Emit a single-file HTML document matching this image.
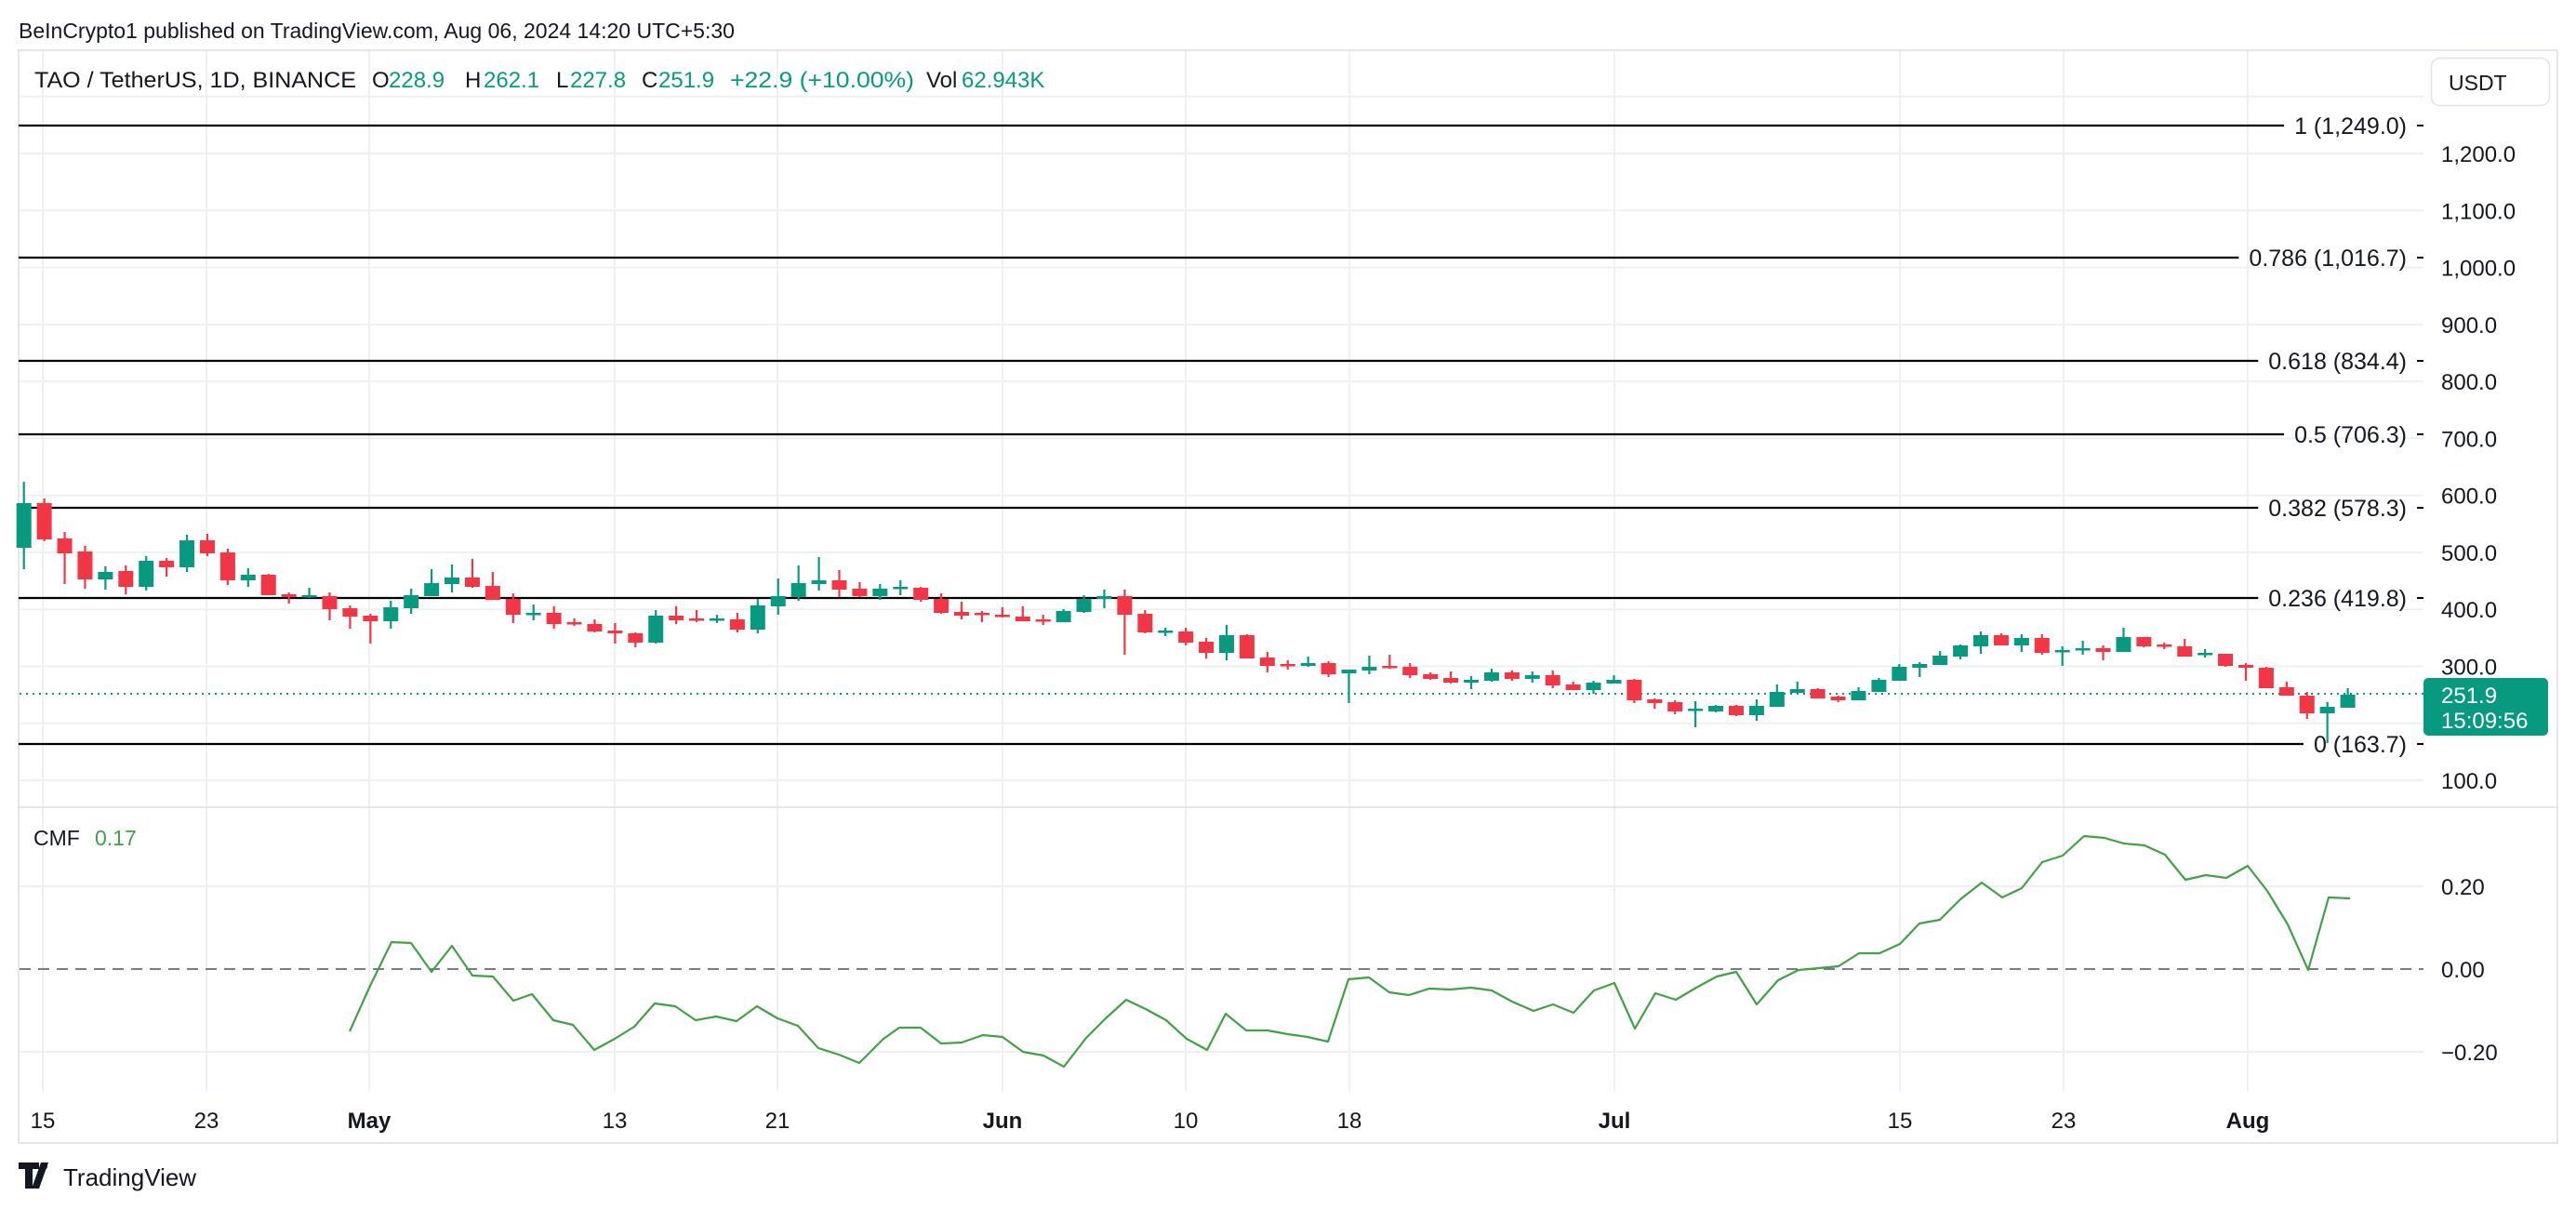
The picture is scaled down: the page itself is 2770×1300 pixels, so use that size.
<!DOCTYPE html>
<html><head><meta charset="utf-8"><style>
html,body{margin:0;padding:0;background:#fff;}
svg{display:block;font-family:"Liberation Sans",Arial,sans-serif;}
</style></head><body>
<svg id="s" width="2770" height="1300" viewBox="0 0 2770 1300" xmlns="http://www.w3.org/2000/svg">
<rect width="2770" height="1300" fill="#fff"/>
<g id="grid"></g>
<g id="fib"></g>
<g id="candles"></g>
<g id="cmf"></g>
<text x="20" y="41" font-size="23" fill="#131722">BeInCrypto1 published on TradingView.com, Aug 06, 2024 14:20 UTC+5:30</text>
<g font-size="24" fill="#131722">
<text x="37" y="94" textLength="346" lengthAdjust="spacingAndGlyphs">TAO / TetherUS, 1D, BINANCE</text>
<text x="400" y="94">O</text><text x="418" y="94" fill="#089981">228.9</text>
<text x="500" y="94">H</text><text x="520" y="94" fill="#089981">262.1</text>
<text x="598" y="94">L</text><text x="613" y="94" fill="#089981">227.8</text>
<text x="690" y="94">C</text><text x="708" y="94" fill="#089981">251.9</text>
<text x="785" y="94" fill="#089981" textLength="198" lengthAdjust="spacingAndGlyphs">+22.9 (+10.00%)</text>
<text x="996" y="94">Vol</text><text x="1034" y="94" fill="#089981">62.943K</text>
</g>
<rect x="2614.5" y="62.5" width="127" height="51" rx="9" fill="#fff" stroke="#e0e3eb" stroke-width="1.5"/>
<text x="2633" y="97" font-size="23" fill="#131722">USDT</text>
<g id="axis" font-size="24" fill="#131722"></g>
<text x="36" y="909" font-size="23" fill="#131722">CMF</text>
<text x="102" y="909" font-size="23" fill="#43a047">0.17</text>
<g font-size="24" fill="#131722">
<text x="2625" y="962">0.20</text><text x="2625" y="1051">0.00</text><text x="2625" y="1140">−0.20</text>
</g>
<rect x="2606" y="729" width="134" height="62" rx="5" fill="#089981"/>
<text x="2625" y="756" font-size="24" fill="#fff">251.9</text>
<text x="2625" y="783" font-size="24" fill="#fff">15:09:56</text>
<g id="time" font-size="24" fill="#131722" text-anchor="middle"></g>
<g transform="translate(20,1250)">
<path d="M0 0h22v7h-7v21h-8V7H0z M24 0l8 0 -10 28h-8z" fill="#131722"/>
<circle cx="27" cy="4" r="4" fill="#131722"/>
</g>
<text x="68" y="1275" font-size="26" fill="#131722">TradingView</text>
</svg>
<script>
var NS="http://www.w3.org/2000/svg";
function el(p,t,a,txt){var e=document.createElementNS(NS,t);for(var k in a)e.setAttribute(k,a[k]);if(txt!=null)e.textContent=txt;document.getElementById(p).appendChild(e);return e;}
function Y(p){return 839-(p-100)*0.6127;}
el('grid','rect',{x:20,y:54,width:2730,height:1175,fill:'none',stroke:'#e6e6e6','stroke-width':2});
var vx=[46,222,397,661,836,1078,1275,1451,1736,2043,2219,2417];
vx.forEach(function(x){el('grid','line',{x1:x,y1:55,x2:x,y2:1173,stroke:'#f0f0f0','stroke-width':2});});
for(var p=100;p<=1300;p+=100){var y=Y(p);el('grid','line',{x1:21,y1:y,x2:2606,y2:y,stroke:'#f0f0f0','stroke-width':2});
 if(p<=1200){var s=p>=1000?(Math.floor(p/1000)+','+String(p%1000).padStart(3,'0')+'.0'):p+'.0';el('axis','text',{x:2625,y:y+9},s);}}
el('grid','line',{x1:21,y1:868,x2:2750,y2:868,stroke:'#e6e6e6','stroke-width':2});
[953,1131].forEach(function(y){el('grid','line',{x1:21,y1:y,x2:2606,y2:y,stroke:'#f0f0f0','stroke-width':2});});
el('grid','line',{x1:21,y1:1042,x2:2606,y2:1042,stroke:'#787b86','stroke-width':2,'stroke-dasharray':'12 8'});
el('grid','line',{x1:21,y1:746,x2:2606,y2:746,stroke:'#089981','stroke-width':2,'stroke-dasharray':'2 5'});
var fib=[[135,'1 (1,249.0)'],[277,'0.786 (1,016.7)'],[388,'0.618 (834.4)'],[467,'0.5 (706.3)'],[546,'0.382 (578.3)'],[643,'0.236 (419.8)'],[800,'0 (163.7)']];
fib.forEach(function(f){var t=el('fib','text',{x:2588,y:f[0]+9,'font-size':25,fill:'#131722','text-anchor':'end'},f[1]);
 var w=150;try{w=t.getComputedTextLength();}catch(e){}
 el('fib','line',{x1:20,y1:f[0],x2:2588-w-11,y2:f[0],stroke:'#000','stroke-width':2.2});
 el('fib','line',{x1:2599,y1:f[0],x2:2606,y2:f[0],stroke:'#000','stroke-width':2});});
var C=[[541,589,518,612,1],[541,580,536,582,0],[579,595,572,628,0],[593,623,587,633,0],[615,623,609,634,1],[614,631,608,639,0],[603,631,598,635,1],[603,610,600,620,0],[581,610,575,615,1],[581,595,574,598,0],
[594,624,590,629,0],[618,624,611,631,1],[618,640,617,640,0],[639,642,637,649,0],[640,642,632,643,1],[641,655,637,667,0],[654,663,651,676,0],[662,668,660,692,0],[653,668,646,676,1],[640,654,633,660,1],
[627,641,612,641,1],[621,628,607,637,1],[621,631,601,632,0],[630,645,615,645,0],[644,661,638,670,0],[659,661,650,667,1],[659,671,652,676,0],[669,671,665,673,0],[671,679,666,680,0],[678,681,670,692,0],
[681,691,680,696,0],[662,691,656,692,1],[662,667,652,671,0],[665,667,656,669,0],[665,667,661,670,1],[666,677,659,680,0],[651,677,644,681,1],[641,652,622,661,1],[627,642,608,646,1],[624,628,599,635,1],
[624,634,613,642,0],[633,641,626,642,0],[633,641,628,645,1],[631,632,624,640,1],[632,645,631,647,0],[644,659,638,660,0],[658,662,647,666,0],[659,661,657,669,0],[661,663,653,664,0],[663,668,652,668,0],
[666,668,661,672,0],[657,669,655,669,1],[644,658,640,659,1],[641,644,634,654,1],[641,661,634,704,0],[660,680,656,681,0],[678,680,675,684,1],[679,691,675,694,0],[690,702,686,708,0],[683,702,672,710,1],
[683,708,682,708,0],[707,716,701,723,0],[714,716,710,720,0],[713,716,706,717,1],[713,725,711,728,0],[720,724,720,756,1],[717,721,705,725,1],[716,718,704,719,0],[717,726,713,729,0],[725,730,723,731,0],
[729,734,722,735,0],[731,734,727,741,1],[723,732,719,733,1],[723,730,721,732,0],[726,730,722,734,1],[726,737,721,740,0],[736,742,733,742,0],[734,742,732,746,1],[731,735,726,735,1],[731,753,730,756,0],
[752,756,751,762,0],[755,765,753,768,0],[762,764,754,782,1],[759,765,758,766,1],[759,769,758,770,0],[759,769,752,775,1],[744,760,736,760,1],[741,745,733,746,1],[741,751,740,751,0],[749,753,748,755,0],
[743,753,739,753,1],[731,744,729,744,1],[717,732,714,732,1],[714,718,712,728,1],[705,715,700,715,1],[694,706,693,709,1],[683,695,679,703,1],[683,694,681,694,0],[686,694,682,701,1],[686,702,682,704,0],
[699,701,695,716,1],[697,699,689,704,1],[697,701,694,710,0],[685,701,675,701,1],[685,695,685,696,0],[693,694,691,698,0],[695,706,687,706,0],[702,703,698,707,1],[703,716,703,717,0],[715,718,713,732,0],
[718,740,717,740,0],[739,748,733,748,0],[748,767,744,773,0],[760,767,755,799,1],[747,761,740,761,1]];
C.forEach(function(c,i){var x=25.7+i*21.92,col=c[4]?'#089981':'#f23645';
 el('candles','rect',{x:x-1.1,y:c[2],width:2.2,height:Math.max(1,c[3]-c[2]),fill:col});
 var h=Math.max(2.5,c[1]-c[0]);el('candles','rect',{x:x-8,y:c[0],width:16,height:h,fill:col});});
var P=[[376,1109],[398,1060],[421,1013],[442,1014],[464,1045],[486,1017],[508,1049],[530,1050],[552,1076],[572,1069],[595,1097],[616,1102],[639,1129],[661,1117],[682,1104],[704,1079],[726,1082],[748,1097],[770,1093],[792,1098],[814,1082],[836,1095],[858,1103],[880,1127],[902,1134],[924,1143],[950,1117],[967,1105],[990,1105],[1012,1122],[1034,1121],[1057,1113],[1078,1115],[1100,1131],[1122,1135],[1144,1147],[1168,1116],[1189,1095],[1211,1075],[1232,1085],[1254,1097],[1276,1117],[1298,1129],[1318,1090],[1340,1108],[1363,1108],[1385,1112],[1406,1115],[1428,1120],[1450,1053],[1472,1051],[1494,1067],[1515,1070],[1537,1063],[1559,1064],[1582,1062],[1604,1065],[1626,1077],[1649,1087],[1670,1080],[1692,1089],[1714,1065],[1736,1057],[1758,1106],[1780,1068],[1802,1075],[1824,1062],[1846,1050],[1867,1045],[1889,1080],[1912,1054],[1934,1043],[1956,1041],[1977,1039],[1999,1025],[2021,1025],[2043,1015],[2064,993],[2086,989],[2108,967],[2131,949],[2153,965],[2174,955],[2196,927],[2218,920],[2241,899],[2263,901],[2284,907],[2306,909],[2328,919],[2350,946],[2372,941],[2394,944],[2417,931],[2438,958],[2460,994],[2482,1043],[2504,965],[2527,966]];
el('cmf','polyline',{points:P.map(function(p){return p.join(',');}).join(' '),fill:'none',stroke:'#43a047','stroke-width':2.2,'stroke-linejoin':'round'});
[[46,'15',0],[222,'23',0],[397,'May',1],[661,'13',0],[836,'21',0],[1078,'Jun',1],[1275,'10',0],[1451,'18',0],[1736,'Jul',1],[2043,'15',0],[2219,'23',0],[2417,'Aug',1]].forEach(function(t){
 var a={x:t[0],y:1213};if(t[2])a['font-weight']='bold';el('time','text',a,t[1]);});
</script>
</body></html>
